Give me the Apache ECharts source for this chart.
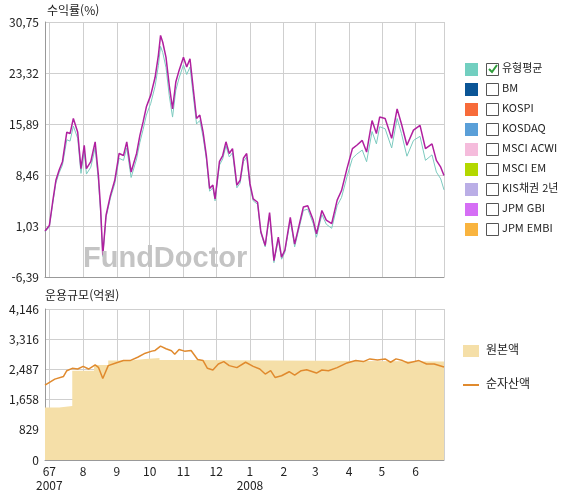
<!DOCTYPE html>
<html lang="ko">
<head>
<meta charset="UTF-8">
<title>수익률 / 운용규모</title>
<style>
  html, body { margin: 0; padding: 0; background: #fff; }
  #chart { width: 568px; height: 494px; }
</style>
</head>
<body>
<div id="chart"></div>
<script src="https://cdn.jsdelivr.net/npm/echarts@6/dist/echarts.min.js"></script>
<script>
// days since 2007-06-27
var retDays = [0,4,7,10,13,16,20,23,26,30,33,36,38,42,46,49,51,53,56,60,64,68,72,75,79,84,87,90,93,97,101,104,106,108,111,114,117,120,123,127,130,133,136,139,142,145,148,151,154,156,160,163,166,169,172,176,179,182,185,188,191,195,198,202,206,210,214,217,220,225,229,232,237,241,246,249,254,258,263,268,272,277,282,286,291,295,300,304,307,312,318,323,327,332,338,344,349,355,359,363,366];
var fundRet = [0.3,1.1,4.5,7.7,9.2,10.4,14.7,14.5,16.7,14.7,9.4,12.8,9.4,10.4,13.3,8.4,3.6,-3.2,2.6,5.5,7.7,11.6,11.3,13.3,8.9,11.6,14.2,16.2,18.4,20.1,22.7,25.9,28.8,27.8,25.6,21.5,18.1,22.0,23.7,25.6,24.2,25.4,21.0,16.7,17.2,14.7,11.3,6.5,7.0,5.0,10.4,11.3,13.3,11.6,12.3,7.0,7.7,10.9,11.6,7.2,5.0,4.5,0.2,-1.8,3.0,-4.0,-0.6,-3.5,-2.5,2.3,-1.6,0.4,3.8,4.0,1.9,-0.1,3.3,1.9,1.4,4.8,6.2,9.4,12.3,12.8,13.5,11.8,16.4,14.5,16.9,16.7,13.8,18.1,15.9,12.8,15.0,15.7,12.3,13.0,10.6,9.6,8.4];
var avgRet = [0.2,0.9,4.2,7.3,8.8,9.9,13.6,13.4,15.6,13.8,8.7,12.0,8.6,9.6,12.4,7.6,3.0,-3.4,2.3,5.1,7.2,10.9,10.6,12.4,8.1,10.8,13.2,15.1,17.2,18.9,21.4,24.4,27.2,26.3,24.1,20.0,16.9,20.8,22.6,24.5,23.1,24.2,20.0,15.9,16.4,14.0,10.8,6.1,6.6,4.7,9.9,10.8,12.7,11.1,11.7,6.6,7.3,10.4,11.1,6.8,4.7,4.2,0.0,-2.0,2.7,-4.3,-0.9,-3.8,-2.8,1.9,-2.0,0.0,3.3,3.5,1.4,-0.6,2.7,1.3,0.7,4.0,5.2,8.2,10.9,11.5,12.1,10.4,14.8,13.0,15.5,15.2,12.4,16.7,14.5,11.2,13.5,14.1,10.6,11.4,8.9,7.9,6.3];

var navDays = [0,9,17,20,25,30,35,40,46,49,53,58,65,72,78,85,92,98,101,106,111,116,119,123,128,134,140,145,149,154,159,164,169,176,184,191,197,202,207,211,217,224,229,235,240,249,254,260,268,277,285,292,298,305,312,317,322,328,333,343,350,357,366];
var netAsset = [2054,2221,2295,2452,2517,2498,2572,2498,2610,2545,2239,2591,2665,2730,2730,2822,2933,2989,3008,3128,3054,2998,2906,3035,2989,3008,2758,2730,2517,2471,2637,2702,2591,2536,2684,2572,2498,2360,2452,2267,2313,2424,2332,2452,2480,2387,2471,2452,2536,2665,2730,2702,2776,2748,2776,2684,2776,2730,2665,2730,2637,2637,2554];

var prinDays = [0,13,25,45,58,78,92,105,135,366];
var principal = [1444,1480,2452,2610,2730,2776,2804,2748,2702,2720];

var retTicks = ['-6,39','1,03','8,46','15,89','23,32','30,75'];
var sizeTicks = ['0','829','1,658','2,487','3,316','4,146'];
var monthDays = [4,35,66,96,127,157,188,219,248,279,309,340];
var monthLabels = ['67\n2007','8','9','10','11','12','1\n2008','2','3','4','5','6'];

var legendNames = ['유형평균','BM','KOSPI','KOSDAQ','MSCI ACWI','MSCI EM','KIS채권 2년','JPM GBI','JPM EMBI'];
var legendColors = ['#72cfc0','#0b5596','#f76b3a','#5a9fd8','#f5bcdc','#b3d800','#baaee6','#d56ef5','#f9b43f'];

var FONT = '"Noto Sans CJK KR", "DejaVu Sans", sans-serif';
var chart = echarts.init(document.getElementById('chart'));

function pair(xs, ys) { return xs.map(function (d, i) { return [d, ys[i]]; }); }
function gridLines(withLabel) {
  var lines = monthDays.map(function (d, i) {
    return { xAxis: d, label: { show: withLabel, formatter: monthLabels[i] } };
  });
  lines.push({ xAxis: 366, label: { show: false } });
  return {
    silent: true, symbol: 'none', animation: false, z: 0,
    lineStyle: { color: '#cfcfcf', type: 'solid', width: 1 },
    label: { position: 'start', color: '#222', fontSize: 12, fontFamily: FONT, lineHeight: 14, distance: 4 },
    data: lines
  };
}

var graphics = [
  { type: 'text', left: 47, top: 4, style: { text: '수익률(%)', font: '12px ' + FONT, fill: '#222' } },
  { type: 'text', left: 45, top: 289, style: { text: '운용규모(억원)', font: '12px ' + FONT, fill: '#222' } },
  { type: 'text', left: 83, top: 244, z: 10, style: { text: 'FundDoctor', font: 'bold 29px Arial, "Liberation Sans", sans-serif', fill: '#c4c4c4' } },
  { type: 'rect', left: 463, top: 345, shape: { width: 16, height: 12 }, style: { fill: '#f5dfa8' } },
  { type: 'text', left: 486, top: 343, style: { text: '원본액', font: '12px ' + FONT, fill: '#222' } },
  { type: 'rect', left: 463, top: 384, shape: { width: 16, height: 2 }, style: { fill: '#e08a2e' } },
  { type: 'text', left: 486, top: 377, style: { text: '순자산액', font: '12px ' + FONT, fill: '#222' } }
];
legendNames.forEach(function (name, i) {
  var y = 63 + i * 20;
  graphics.push({ type: 'rect', left: 465, top: y, shape: { width: 13, height: 13 }, style: { fill: legendColors[i] } });
  graphics.push({ type: 'rect', left: 486, top: y, shape: { width: 12, height: 12 }, style: { fill: '#fff', stroke: '#555', lineWidth: 1 } });
  graphics.push({ type: 'text', left: 502, top: y - 1, style: { text: name, font: '11px ' + FONT, fill: '#222' } });
});
graphics.push({ type: 'polyline', shape: { points: [[489, 69], [492, 72], [497, 65]] }, style: { stroke: '#2e9c3a', lineWidth: 2, fill: null } });

var xBase = { type: 'value', min: 0, max: 366, axisLabel: { show: false }, axisTick: { show: false }, splitLine: { show: false },
  axisLine: { onZero: false, lineStyle: { color: '#999' } } };

var option = {
  animation: false,
  textStyle: { fontFamily: FONT },
  graphic: graphics,
  grid: [
    { left: 45, right: 124, top: 22, bottom: 217 },
    { left: 45, right: 124, top: 309, bottom: 34 }
  ],
  xAxis: [
    Object.assign({ gridIndex: 0 }, xBase),
    Object.assign({ gridIndex: 1 }, xBase)
  ],
  yAxis: [
    { gridIndex: 0, type: 'value', min: -6.39, max: 30.75, interval: 7.428,
      axisLine: { show: true, lineStyle: { color: '#999' } }, axisTick: { show: false },
      splitLine: { lineStyle: { color: '#cfcfcf' } },
      axisLabel: { color: '#222', fontSize: 12, margin: 6, formatter: function (v) { return retTicks[Math.round((v + 6.39) / 7.428)]; } } },
    { gridIndex: 1, type: 'value', min: 0, max: 4146, interval: 829.2,
      axisLine: { show: true, lineStyle: { color: '#999' } }, axisTick: { show: false },
      splitLine: { lineStyle: { color: '#cfcfcf' } },
      axisLabel: { color: '#222', fontSize: 12, margin: 6, formatter: function (v) { return sizeTicks[Math.round(v / 829.2)]; } } }
  ],
  series: [
    { type: 'line', xAxisIndex: 0, yAxisIndex: 0, data: pair(retDays, avgRet), symbol: 'none',
      lineStyle: { color: '#7ccabf', width: 1 }, markLine: gridLines(false) },
    { type: 'line', xAxisIndex: 0, yAxisIndex: 0, data: pair(retDays, fundRet), symbol: 'none',
      lineStyle: { color: '#b0209f', width: 1.5 } },
    { type: 'line', xAxisIndex: 1, yAxisIndex: 1, data: [], symbol: 'none', z: 0, markLine: gridLines(true) },
    { type: 'line', xAxisIndex: 1, yAxisIndex: 1, data: pair(prinDays, principal), symbol: 'none', step: 'end',
      lineStyle: { width: 0 }, areaStyle: { color: '#f5dfa8', opacity: 1 }, z: 2 },
    { type: 'line', xAxisIndex: 1, yAxisIndex: 1, data: pair(navDays, netAsset), symbol: 'none',
      lineStyle: { color: '#e08a2e', width: 1.5 }, z: 3 }
  ]
};
chart.setOption(option);
</script>
</body>
</html>
